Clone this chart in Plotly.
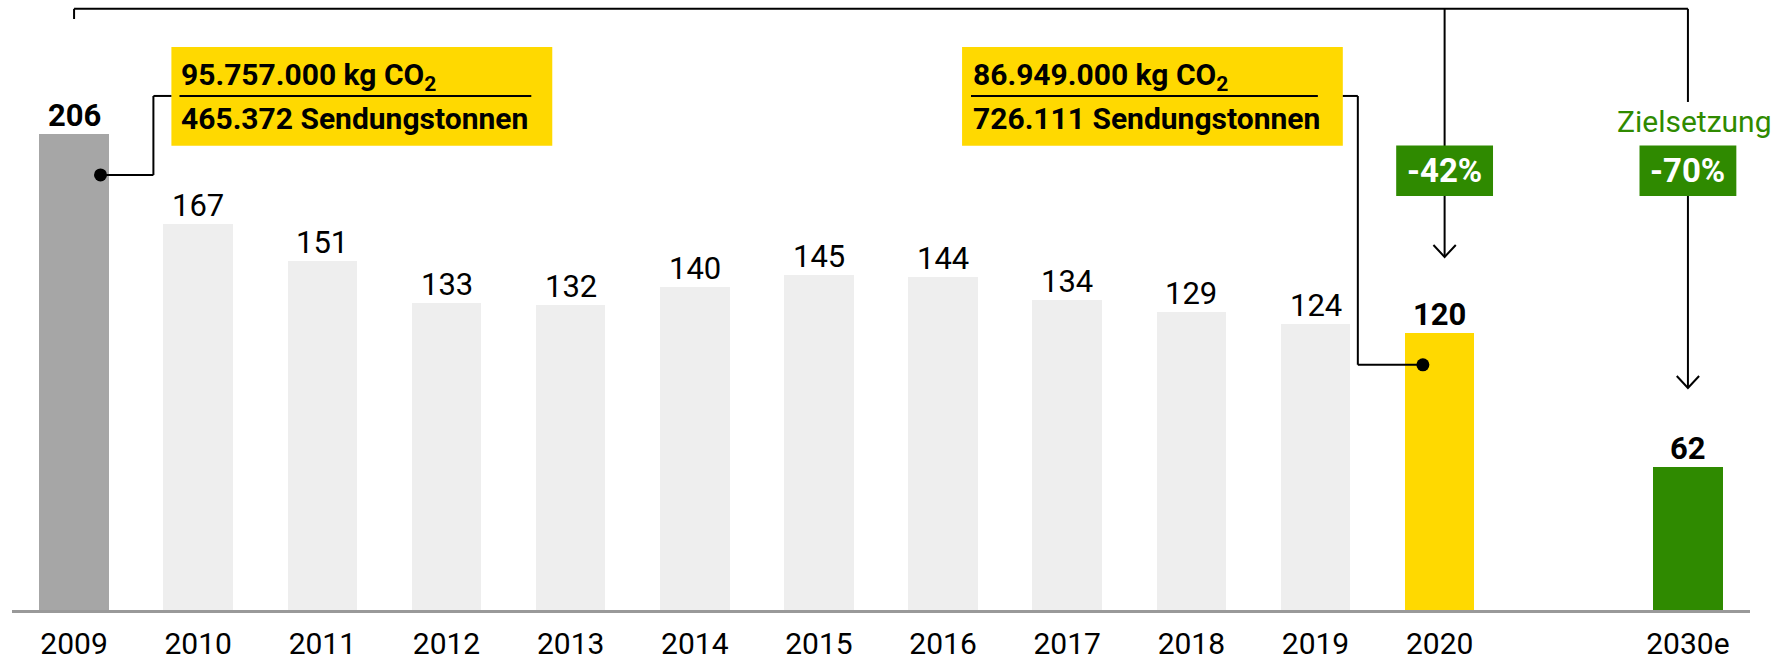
import plotly.graph_objects as go

# ---------------- data ----------------
years = ["2009", "2010", "2011", "2012", "2013", "2014", "2015",
         "2016", "2017", "2018", "2019", "2020", "2030e"]
values = [206, 167, 151, 133, 132, 140, 145, 144, 134, 129, 124, 120, 62]
bold_years = ["2009", "2020", "2030e"]

box1_lines = ["95.757.000 kg CO<sub>2</sub>", "465.372 Sendungstonnen"]
box2_lines = ["86.949.000 kg CO<sub>2</sub>", "726.111 Sendungstonnen"]
change_2020 = "-42%"
change_2030 = "-70%"
target_label = "Zielsetzung"

# ---------------- style ----------------
FONT = "Roboto, 'Liberation Sans', sans-serif"
GREY = "#A6A6A6"
LIGHT = "#EEEEEE"
YELLOW = "#FFD900"
GREEN = "#2F8A00"
BLACK = "#000000"

# slot positions: one empty slot between 2020 and 2030e
pos = list(range(len(years) - 1)) + [len(years)]
colors = [GREY] + [LIGHT] * 10 + [YELLOW, GREEN]
idx = {y: p for y, p in zip(years, pos)}

fig = go.Figure()
fig.add_bar(x=pos, y=values, marker=dict(color=colors, line=dict(width=0)),
            width=0.56, hoverinfo="skip")

# value labels
for y, p, v in zip(years, pos, values):
    txt = f"<b>{v}</b>" if y in bold_years else str(v)
    fig.add_annotation(x=p, y=v, text=txt, showarrow=False, yanchor="bottom",
                       yshift=-2, font=dict(family=FONT, size=31, color=BLACK))

shapes = []
LW = 2

def line(x0, y0, x1, y1):
    shapes.append(dict(type="line", x0=x0, y0=y0, x1=x1, y1=y1,
                       line=dict(color=BLACK, width=LW)))

def chevron(x, y, dx=0.09, dy=5.2):
    shapes.append(dict(type="path",
                       path=f"M {x-dx},{y+dy} L {x},{y} L {x+dx},{y+dy}",
                       line=dict(color=BLACK, width=LW)))

# ---- yellow info boxes ----
def info_box(x0, x1, lines, ux0, ux1):
    shapes.append(dict(type="rect", x0=x0, x1=x1, y0=200.9, y1=243.7,
                       fillcolor=YELLOW, line=dict(width=0), layer="below"))
    line(ux0, 222.5, ux1, 222.5)
    fig.add_annotation(x=ux0, y=230.8, text=f"<b>{lines[0]}</b>", showarrow=False,
                       xanchor="left", yanchor="middle",
                       font=dict(family=FONT, size=30, color=BLACK))
    fig.add_annotation(x=ux0, y=212.6, text=f"<b>{lines[1]}</b>", showarrow=False,
                       xanchor="left", yanchor="middle",
                       font=dict(family=FONT, size=30, color=BLACK))

info_box(0.784, 3.852, box1_lines, 0.849, 3.683)
info_box(7.153, 10.22, box2_lines, 7.225, 10.019)

# connector 2009
i09 = idx["2009"]
line(i09 + 0.213, 188.3, i09 + 0.639, 188.3)
line(i09 + 0.639, 188.3, i09 + 0.639, 222.5)
line(i09 + 0.639, 222.5, 0.784, 222.5)
# connector 2020
i20 = idx["2020"]
line(10.22, 222.5, i20 - 0.659, 222.5)
line(i20 - 0.659, 222.5, i20 - 0.659, 106.1)
line(i20 - 0.659, 106.1, i20 - 0.135, 106.1)

# dots
fig.add_scatter(x=[i09 + 0.213, i20 - 0.135], y=[188.3, 106.1], mode="markers",
                marker=dict(color=BLACK, size=13), hoverinfo="skip")

# top bracket
i30 = idx["2030e"]
xa = i20 + 0.04
TOP = 260.2
line(i09, 255.8, i09, TOP)
line(i09, TOP, i30, TOP)
line(xa, TOP, xa, 152.8)
chevron(xa, 152.8)
line(i30, TOP, i30, 219.9)
line(i30, 190, i30, 96.1)
chevron(i30, 96.1)

# green boxes
for xc, t in [(xa, change_2020), (i30, change_2030)]:
    shapes.append(dict(type="rect", x0=xc - 0.39, x1=xc + 0.39, y0=179.2, y1=201.0,
                       fillcolor=GREEN, line=dict(width=0)))
    fig.add_annotation(x=xc, y=190.1, text=f"<b>{t}</b>", showarrow=False,
                       font=dict(family=FONT, size=33, color="white"))

fig.add_annotation(x=i30 + 0.05, y=211.3, text=target_label, showarrow=False,
                   font=dict(family=FONT, size=30, color=GREEN))

fig.update_layout(
    shapes=shapes,
    width=1789, height=664,
    margin=dict(l=12, r=39, t=4, b=54),
    paper_bgcolor="white", plot_bgcolor="white",
    showlegend=False, bargap=0,
    xaxis=dict(range=[-0.5, 13.5], tickvals=pos, ticktext=years,
               showgrid=False, zeroline=False, showline=True,
               linecolor="#999999", linewidth=3, ticks="",
               tickfont=dict(family=FONT, size=30, color=BLACK),
               ticklabelstandoff=5, automargin=False, fixedrange=True),
    yaxis=dict(range=[0, 262.3], visible=False, fixedrange=True,
               automargin=False),
)

fig.write_html("out.html", include_plotlyjs=True,
               config={"displayModeBar": False},
               post_script="document.body.style.margin='0';")
